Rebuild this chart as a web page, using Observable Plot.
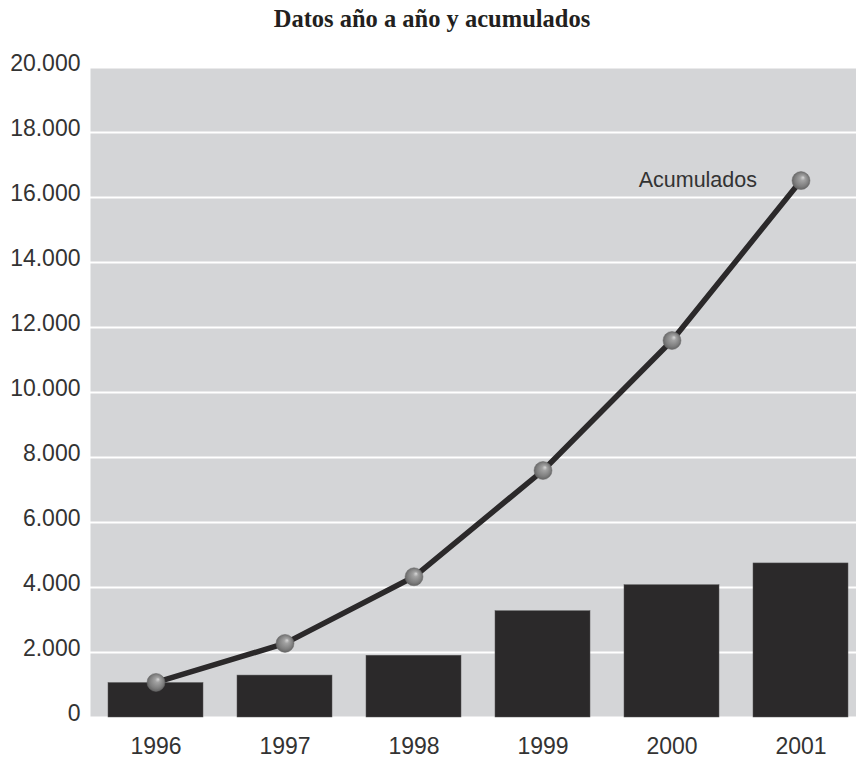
<!DOCTYPE html>
<html>
<head>
<meta charset="utf-8">
<script src="https://cdn.jsdelivr.net/npm/d3@7"></script>
<script src="https://cdn.jsdelivr.net/npm/@observablehq/plot@0.6"></script>
<style>
  html, body { margin: 0; padding: 0; background: #fff; overflow: hidden; }
  #title { box-sizing: border-box; height: 40px; width: 856px; padding-top: 4px; padding-left: 8px; text-align: center; font-family: "Liberation Serif", "DejaVu Serif", serif; font-weight: bold; font-size: 24.5px; line-height: 30px; color: #231f20; }
  #chart svg { display: block; overflow: hidden; }
</style>
</head>
<body>
<div id="title">Datos año a año y acumulados</div>
<div id="chart"></div>
<script>
const years = ["1996", "1997", "1998", "1999", "2000", "2001"];
const yearly = [1060, 1290, 1900, 3270, 4070, 4740];
const cumulative = [1080, 2280, 4330, 7600, 11600, 16520];
const yTicks = [0, 2000, 4000, 6000, 8000, 10000, 12000, 14000, 16000, 18000, 20000];
const lineLabel = "Acumulados";

const bars = years.map((y, i) => ({year: y, value: yearly[i]}));
const points = years.map((y, i) => ({year: y, value: cumulative[i]}));

const fmt = d3.formatLocale({decimal: ",", thousands: ".", grouping: [3], currency: ["", ""]}).format(",d");

const plot = Plot.plot({
  width: 856,
  height: 720,
  marginTop: 27,
  marginBottom: 43,
  marginLeft: 90,
  marginRight: 0,
  style: {fontFamily: "'Liberation Sans', Arial, sans-serif", fontSize: "23px", color: "#333", background: "#fff"},
  x: {domain: years, range: [89.2, 866.8], paddingInner: 0.26, paddingOuter: 0.13, label: null},
  y: {domain: [0, 20000], label: null},
  marks: [
    Plot.frame({fill: "#d4d5d7", stroke: null}),
    Plot.gridY(yTicks, {stroke: "#fff", strokeOpacity: 1, strokeWidth: 2}),
    Plot.barY(bars, {x: "year", y: "value", fill: "#2b292a", stroke: "#555", strokeWidth: 0.5}),
    Plot.line(points, {x: "year", y: "value", stroke: "#2b292a", strokeWidth: 5.5}),
    Plot.dot(points, {x: "year", y: "value", r: 9, fill: "url(#sphere)", stroke: "#6b6b6b", strokeWidth: 0.5}),
    Plot.text([points[points.length - 1]], {x: "year", y: "value", text: () => lineLabel, textAnchor: "end", dx: -44, dy: 0, fill: "#333", fontSize: 21.5}),
    Plot.axisY(yTicks, {tickSize: 0, tickPadding: 10, tickFormat: fmt, dy: -4, fill: "#333"}),
    Plot.axisX({tickSize: 0, tickPadding: 20, fill: "#333"})
  ]
});

const svg = d3.select(plot);
const defs = svg.insert("defs", ":first-child");
const g = defs.append("radialGradient").attr("id", "sphere")
  .attr("cx", "0.5").attr("cy", "0.5").attr("r", "0.55")
  .attr("fx", "0.62").attr("fy", "0.32");
g.append("stop").attr("offset", "0%").attr("stop-color", "#d8d8d8");
g.append("stop").attr("offset", "25%").attr("stop-color", "#a2a2a2");
g.append("stop").attr("offset", "70%").attr("stop-color", "#7e7e7e");
g.append("stop").attr("offset", "100%").attr("stop-color", "#5c5c5c");

document.getElementById("chart").appendChild(plot);
</script>
</body>
</html>
